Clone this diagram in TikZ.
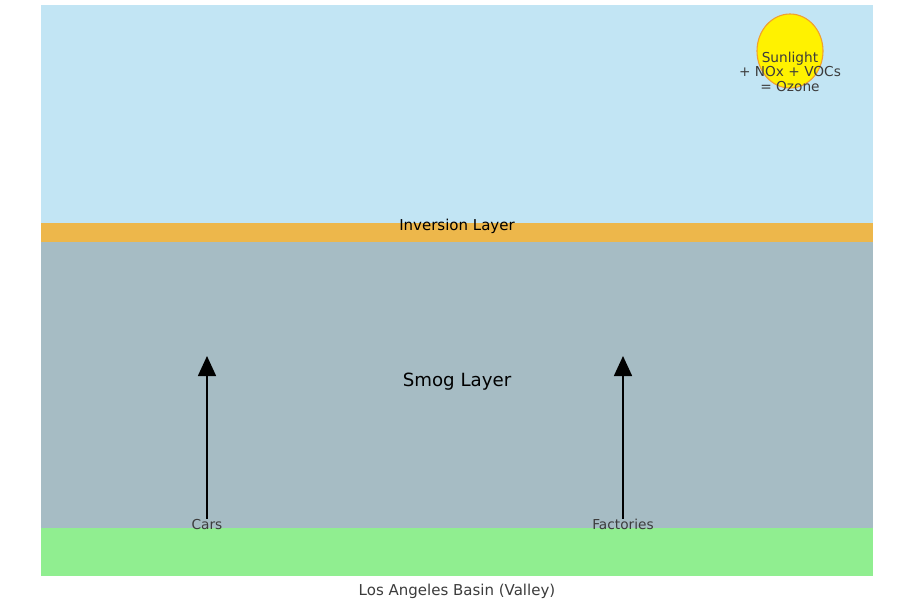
\documentclass[tikz,border=0pt]{standalone}
\usepackage{fontspec}
\setmainfont{DejaVu Sans}
\usetikzlibrary{arrows.meta,shapes.geometric}
\definecolor{skyc}{HTML}{C2E5F4}
\definecolor{invc}{HTML}{EDB74B}
\definecolor{smogc}{HTML}{A6BCC4}
\definecolor{groundc}{HTML}{90EE90}
\definecolor{txtgrey}{HTML}{3C3C3C}
\definecolor{sunedge}{HTML}{F0A030}
\tikzset{
  srcarrow/.style={line width=1.6pt,-{Triangle[length=20pt,width=18pt]}},
  greylabel/.style={text=txtgrey,font=\fontsize{13.7}{15}\selectfont,inner sep=0pt},
}
\begin{document}
\begin{tikzpicture}[x=1pt,y=-1pt]
\useasboundingbox (0,0) rectangle (909,606);
\fill[white] (0,0) rectangle (909,606);
\fill[skyc] (41,5) rectangle (873,223);
\fill[invc] (41,223) rectangle (873,242);
\fill[smogc] (41,242) rectangle (873,528);
\fill[groundc] (41,528) rectangle (873,576);
\node[ellipse,draw=sunedge,fill=yellow,line width=1.1pt,minimum width=66pt,minimum height=74pt,inner sep=0pt] (sun) at (790,51) {};
\node[greylabel,align=center,font=\fontsize{13.7}{14.6}\selectfont] (sunt) at (790,71.5) {Sunlight\\+ NOx + VOCs\\= Ozone};
\node[inner sep=0pt,font=\fontsize{15}{17}\selectfont] (inv) at (457,226) {Inversion Layer};
\node[inner sep=0pt,font=\fontsize{18.2}{20}\selectfont] (smog) at (457,381.5) {Smog Layer};
\node[greylabel] (cars) at (207,524) {Cars};
\node[greylabel] (fact) at (623,524) {Factories};
\coordinate (carstop) at (207,356);
\coordinate (facttop) at (623,356);
\draw[srcarrow] (cars.north) -- (carstop);
\draw[srcarrow] (fact.north) -- (facttop);
\node[greylabel,font=\fontsize{15}{17}\selectfont] (basin) at (457,591) {Los Angeles Basin (Valley)};
\end{tikzpicture}
\end{document}
